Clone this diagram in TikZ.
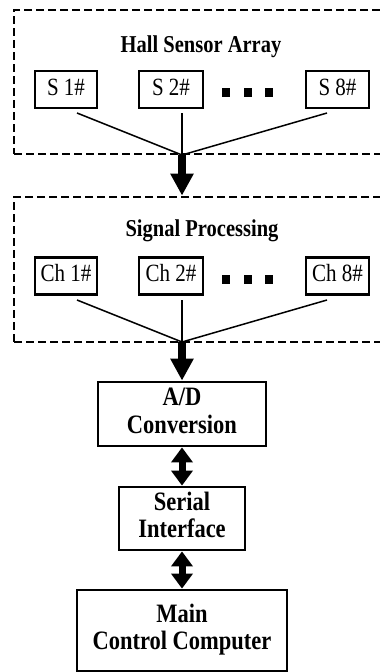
\documentclass[tikz,border=0pt]{standalone}
\usepackage{fontspec}
\setmainfont{Liberation Serif}
\usetikzlibrary{arrows.meta}
% text stretched slightly upward, one or more centred lines
\newcommand{\vtxt}[1]{\scalebox{1}[1.18]{\begin{tabular}{@{}c@{}}#1\end{tabular}}}
\tikzset{
  grp/.style={draw, dash pattern=on 8pt off 4pt, line width=2.8pt, inner sep=0pt, rectangle},
  grptitle/.style={inner sep=0pt, anchor=base, font=\fontsize{20.5}{24}\selectfont\bfseries},
  unit/.style={draw, line width=2.4pt, inner sep=0pt, minimum height=37pt, font=\fontsize{21}{24}\selectfont},
  blk/.style={draw, line width=2.8pt, inner sep=0pt, font=\fontsize{22.5}{23}\selectfont\bfseries},
  dotsq/.style={fill, inner sep=0pt, minimum width=8pt, minimum height=9pt},
  feed/.style={line width=1.5pt},
  flow/.style={line width=8pt, -{Triangle[width=22pt,length=22pt]}},
  link/.style={line width=7pt, {Triangle[width=21pt,length=15pt]}-{Triangle[width=21pt,length=15pt]}},
}
\begin{document}
\begin{tikzpicture}[x=1pt, y=-1pt]
  \useasboundingbox (0,0) rectangle (380,672);
  \clip (0,0) rectangle (380,672);
  \fill[white] (0,0) rectangle (380,672);

  % ---- sensor group ----
  \node[grp, minimum width=381pt, minimum height=144pt] (hsa) at (204.5,82) {};
  \node[grptitle] (hsat) at (201,53) {\vtxt{Hall Sensor Array}};
  \node[unit, minimum width=62pt] (s1) at (66,89.5) {\vtxt{S 1\#}};
  \node[unit, minimum width=64pt] (s2) at (171,89.5) {\vtxt{S 2\#}};
  \node[unit, minimum width=63pt] (s8) at (337.5,89.5) {\vtxt{S 8\#}};
  \node[dotsq] (sd1) at (226,92.5) {};
  \node[dotsq] (sd2) at (247.5,92.5) {};
  \node[dotsq] (sd3) at (269,92.5) {};
  \coordinate (sa1) at (77,113);
  \coordinate (sa2) at (182,113);
  \coordinate (sa8) at (327,113);
  \coordinate (j1) at (182,155);
  \draw[feed] (sa1) -- (j1);
  \draw[feed] (sa2) -- (j1);
  \draw[feed] (sa8) -- (j1);

  % ---- signal processing group ----
  \node[grp, minimum width=381pt, minimum height=145pt] (sp) at (204.5,269.5) {};
  \node[grptitle] (spt) at (202,237) {\vtxt{Signal Processing}};
  \node[unit, minimum width=62pt] (c1) at (66,276) {\vtxt{Ch 1\#}};
  \node[unit, minimum width=64pt] (c2) at (171,276) {\vtxt{Ch 2\#}};
  \node[unit, minimum width=63pt] (c8) at (337.5,276) {\vtxt{Ch 8\#}};
  \node[dotsq] (cd1) at (226,279) {};
  \node[dotsq] (cd2) at (247.5,279) {};
  \node[dotsq] (cd3) at (269,279) {};
  \coordinate (ca1) at (77,300);
  \coordinate (ca2) at (182,300);
  \coordinate (ca8) at (327,300);
  \coordinate (j2) at (182,342);
  \draw[feed] (ca1) -- (j2);
  \draw[feed] (ca2) -- (j2);
  \draw[feed] (ca8) -- (j2);

  \draw[flow] (j1) -- (j1 |- sp.north);

  % ---- processing chain ----
  \node[blk, minimum width=168pt, minimum height=64pt] (ad) at (182,414) {\vtxt{A/D\\Conversion}};
  \node[blk, minimum width=126pt, minimum height=63pt] (si) at (182,518.5) {\vtxt{Serial\\Interface}};
  \node[blk, minimum width=210pt, minimum height=81pt] (mc) at (182,630.5) {\vtxt{Main\\Control Computer}};

  \draw[flow] (j2) -- (j2 |- ad.north);
  \draw[link] (ad.south) -- (si.north);
  \draw[link] (si.south) -- (mc.north);
\end{tikzpicture}
\end{document}
